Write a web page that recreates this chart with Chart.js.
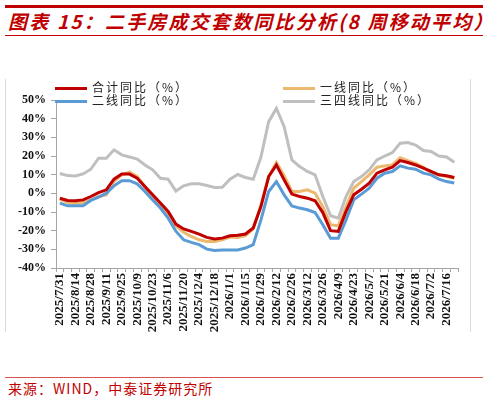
<!DOCTYPE html>
<html>
<head>
<meta charset="utf-8">
<script src="https://cdn.jsdelivr.net/npm/chart.js@4/dist/chart.umd.min.js"></script>
<style>
  body { margin: 0; width: 488px; height: 400px; background: #fff; position: relative; overflow: hidden; font-family: "Noto Sans CJK SC", sans-serif; }
  .topbar { position: absolute; left: 5px; top: 5px; width: 478px; height: 3px; background: #c00000; }
  .title { position: absolute; left: 8px; top: 9px; color: #c00000; font-size: 19px; font-weight: bold; font-style: italic; letter-spacing: 2.2px; white-space: nowrap; line-height: 24px; }
  .titleline { position: absolute; left: 5px; top: 35px; width: 478px; height: 1px; background: #c00000; }
  .box { position: absolute; left: 5px; top: 79px; width: 466px; height: 253px; border-left: 1px solid #d9d9d9; border-right: 1px solid #d9d9d9; box-sizing: border-box; }
  .wrap { position: absolute; left: 5px; top: 79px; width: 466px; height: 253px; }
  .legend { position: absolute; font-size: 12px; color: #222; letter-spacing: 2px; white-space: nowrap; line-height: 13px; }
  .legend span.sw { display: inline-block; width: 32px; height: 3px; vertical-align: middle; margin-right: 5px; }
  .srcline { position: absolute; left: 5px; top: 377px; width: 478px; height: 1px; background: #d9534f; }
  .src { position: absolute; left: 8px; top: 379px; color: #c00000; font-size: 14px; letter-spacing: 1px; white-space: nowrap; line-height: 18px; }
</style>
</head>
<body>
<div class="topbar"></div>
<div class="title">图表 15：二手房成交套数同比分析(8 周移动平均）</div>
<div class="titleline"></div>
<div class="box"></div>
<div class="wrap"><canvas id="chart"></canvas></div>
<div class="legend" style="left:55px; top:80px;"><span class="sw" style="background:#c00000"></span>合计同比（%）</div>
<div class="legend" style="left:55px; top:93px;"><span class="sw" style="background:#5b9bd5"></span>二线同比（%）</div>
<div class="legend" style="left:283px; top:80px;"><span class="sw" style="background:#ebb86e"></span>一线同比（%）</div>
<div class="legend" style="left:283px; top:93px;"><span class="sw" style="background:#bfbfbf"></span>三四线同比（%）</div>
<div class="srcline"></div>
<div class="src">来源：WIND，中泰证券研究所</div>
<script>
// 周度日期
const weeks = [
  '2025/7/31', '2025/8/7', '2025/8/14', '2025/8/21', '2025/8/28', '2025/9/4', '2025/9/11', '2025/9/18',
  '2025/9/25', '2025/10/2', '2025/10/9', '2025/10/16', '2025/10/23', '2025/10/30', '2025/11/6', '2025/11/13',
  '2025/11/20', '2025/11/27', '2025/12/4', '2025/12/11', '2025/12/18', '2025/12/25', '2026/1/1', '2026/1/8',
  '2026/1/15', '2026/1/22', '2026/1/29', '2026/2/5', '2026/2/12', '2026/2/19', '2026/2/26', '2026/3/5',
  '2026/3/12', '2026/3/19', '2026/3/26', '2026/4/2', '2026/4/9', '2026/4/16', '2026/4/23', '2026/4/30',
  '2026/5/7', '2026/5/14', '2026/5/21', '2026/5/28', '2026/6/4', '2026/6/11', '2026/6/18', '2026/6/25',
  '2026/7/2', '2026/7/9', '2026/7/16', '2026/7/23'
];

// 合计同比（%）
const totalYoY = [
  -2.6, -3.8, -4.0, -3.5, -1.7, 0.4, 1.9, 7.6, 10.3, 10.3, 8.1, 3.6, -0.8, -5.2, -9.7, -16.5,
  -19.1, -20.4, -21.8, -23.6, -24.5, -24.0, -22.7, -22.4, -21.8, -18.6, -7.1, 9.0, 15.2, 7.2, -0.4, -1.7,
  -2.6, -4.0, -10.3, -20.0, -20.4, -9.7, -0.8, 2.2, 5.5, 10.8, 12.6, 14.0, 17.5, 16.5, 15.2, 13.5,
  11.7, 9.9, 9.4, 8.5
];

// 一线同比（%）
const tier1YoY = [
  -3.1, -4.9, -5.2, -4.9, -3.5, -1.7, -0.8, 6.3, 9.9, 11.3, 9.0, 3.6, -1.7, -6.1, -11.5, -17.5,
  -20.9, -23.1, -24.9, -25.8, -25.8, -24.9, -23.4, -23.6, -22.7, -19.1, -6.1, 9.0, 16.5, 9.4, 1.0, 1.0,
  1.9, 0.1, -7.1, -16.8, -17.4, -7.1, 2.8, 6.3, 9.9, 14.0, 14.7, 15.2, 19.1, 17.5, 16.1, 14.0,
  11.1, 9.9, 9.0, 8.1
];

// 二线同比（%）
const tier2YoY = [
  -5.2, -6.7, -6.7, -6.7, -3.8, -2.1, 0.1, 4.0, 6.8, 6.8, 5.1, 1.0, -3.5, -7.9, -13.3, -20.3,
  -24.9, -26.3, -27.5, -29.9, -30.6, -30.3, -30.3, -30.3, -29.3, -27.5, -14.2, 1.0, 6.3, -0.8, -6.7, -7.9,
  -8.8, -10.3, -16.8, -24.0, -24.0, -14.2, -3.5, -0.4, 2.8, 8.1, 10.8, 11.7, 14.7, 13.5, 12.9, 10.8,
  9.9, 7.6, 6.3, 5.5
];

// 三四线同比（%）
const tier34YoY = [
  10.6, 9.5, 9.3, 10.4, 12.9, 18.8, 18.8, 23.3, 20.6, 19.5, 18.3, 15.2, 12.6, 8.1, 7.6, 1.2,
  4.0, 5.1, 5.1, 4.2, 3.1, 3.3, 7.6, 10.1, 8.5, 7.6, 19.4, 38.4, 45.5, 35.7, 17.9, 14.3,
  11.7, 9.9, -1.7, -12.0, -13.3, -1.7, 6.3, 9.0, 12.6, 17.9, 20.0, 21.8, 26.8, 27.2, 25.9, 22.9,
  22.4, 20.0, 19.5, 16.7
];

const yTicks = [-40, -30, -20, -10, 0, 10, 20, 30, 40, 50];

const yFont = { family: '"Liberation Serif", "Times New Roman", serif', size: 12, weight: 'bold' };
const xFont = { family: '"Liberation Serif", "Times New Roman", serif', size: 13, weight: 'bold' };
const axisColor = '#a6a6a6';

const ctx = document.getElementById('chart').getContext('2d');
new Chart(ctx, {
    type: 'line',
    data: {
        labels: weeks,
        datasets: [{
            label: '合计同比（%）',
            data: totalYoY,
            borderColor: '#c00000',
            borderWidth: 3,
            pointRadius: 0,
            fill: false
        }, {
            label: '二线同比（%）',
            data: tier2YoY,
            borderColor: '#5b9bd5',
            borderWidth: 3,
            pointRadius: 0,
            fill: false
        }, {
            label: '一线同比（%）',
            data: tier1YoY,
            borderColor: '#ebb86e',
            borderWidth: 3,
            pointRadius: 0,
            fill: false
        }, {
            label: '三四线同比（%）',
            data: tier34YoY,
            borderColor: '#bfbfbf',
            borderWidth: 3,
            pointRadius: 0,
            fill: false
        }]
    },
    options: {
        responsive: true,
        maintainAspectRatio: false,
        animation: false,
        layout: { padding: { top: 21, right: 12, left: 0, bottom: 0 } },
        plugins: { legend: { display: false }, tooltip: { enabled: false } },
        scales: {
            x: {
                offset: true,
                afterFit: (scale) => { scale.height = 64; },
                border: { color: axisColor, width: 1 },
                grid: { drawOnChartArea: false, drawTicks: true, tickLength: 4, color: axisColor, offset: true },
                ticks: {
                    autoSkip: false,
                    minRotation: 90,
                    maxRotation: 90,
                    padding: 1,
                    color: '#111',
                    font: xFont,
                    callback: (v, i) => (i % 2 === 0 ? weeks[i] : '')
                }
            },
            y: {
                min: yTicks[0],
                max: yTicks[yTicks.length - 1],
                afterFit: (scale) => { scale.width = 51; },
                afterBuildTicks: (scale) => { scale.ticks = yTicks.map(v => ({ value: v })); },
                border: { color: axisColor, width: 1 },
                grid: { drawOnChartArea: false, drawTicks: true, tickLength: 5, color: axisColor },
                ticks: {
                    padding: 5,
                    color: '#111',
                    font: yFont,
                    callback: (v) => v + '%'
                }
            }
        }
    }
});
</script>
</body>
</html>
